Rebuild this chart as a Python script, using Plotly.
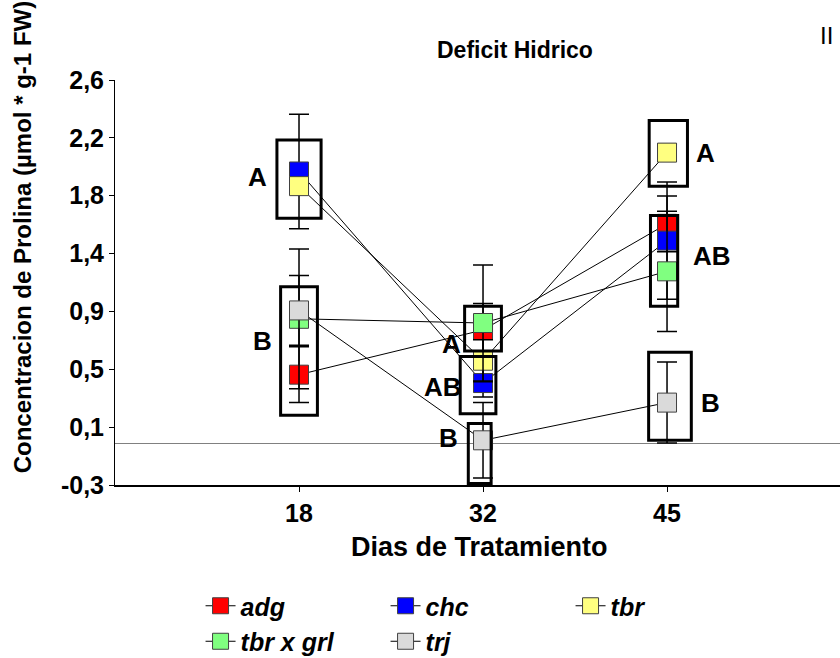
import numpy as np
import plotly.graph_objects as go

# ---- data -------------------------------------------------------------
days = ["18", "32", "45"]

adg = [0.49, 0.81, 1.57]
adg_err = [0.20, 0.19, 0.20]

chc = [1.945, 0.43, 1.45]
chc_err = [0.41, 0.10, 0.42]

tbr = [1.84, 0.59, 2.08]
tbr_err = [0.05, 0.15, 0.06]

tbr_grl = [0.89, 0.86, 1.23]
tbr_grl_err = [0.50, 0.415, 0.43]

trj = [0.95, 0.02, 0.29]
trj_err = [0.25, 0.27, 0.29]

y_tick_labels = ["-0,3", "0,1", "0,5", "0,9", "1,4", "1,8", "2,2", "2,6"]

# significance groups (Tukey letters) per sampling day
group_day = [0, 0, 1, 1, 1, 2, 2, 2]
group_letter = ["A", "B", "A", "AB", "B", "A", "AB", "B"]
group_low = [1.61, 0.20, 0.66, 0.21, -0.29, 1.84, 0.98, 0.02]
group_high = [2.17, 1.12, 0.98, 0.62, 0.14, 2.31, 1.63, 0.65]
group_label_y = [1.905, 0.73, 0.71, 0.40, 0.04, 2.075, 1.34, 0.29]

# ---- styling ----------------------------------------------------------
FONT = "Arial, Liberation Sans, sans-serif"
series = [
    ("adg", adg, adg_err, "#FF0000"),
    ("chc", chc, chc_err, "#0000FF"),
    ("tbr", tbr, tbr_err, "#FFFF80"),
    ("tbr x grl", tbr_grl, tbr_grl_err, "#80FF80"),
    ("trj", trj, trj_err, "#DADADA"),
]

box_half = [0.12, 0.10, 0.10, 0.097, 0.062, 0.104, 0.074, 0.116]
box_shift = [0.0, 0.0, 0.0, -0.027, -0.018, 0.007, -0.016, 0.016]
label_dx = [-0.228, -0.20, -0.174, -0.22, -0.19, 0.21, 0.243, 0.238]

fig = go.Figure()

# each series: connecting line, error bars and square markers
for name, vals, errs, color in series:
    fig.add_trace(go.Scatter(
        x=days, y=vals, name=name, mode="lines+markers",
        line=dict(color="black", width=1),
        marker=dict(symbol="square", size=19, color=color,
                    line=dict(color="#404040", width=1)),
        error_y=dict(type="data", array=errs, visible=True,
                     color="black", thickness=1.5, width=10),
    ))

shapes = []
annotations = []
for d, let, lo, hi, hw, sh, lyy, dx in zip(group_day, group_letter, group_low,
                                           group_high, box_half, box_shift,
                                           group_label_y, label_dx):
    shapes.append(dict(type="rect", xref="x", yref="y",
                       x0=d + sh - hw, x1=d + sh + hw, y0=lo, y1=hi,
                       line=dict(color="black", width=3),
                       fillcolor="rgba(0,0,0,0)", layer="above"))
    annotations.append(dict(x=d + dx, y=lyy, xref="x", yref="y", text=let,
                            showarrow=False, xanchor="center", yanchor="middle",
                            font=dict(family=FONT, size=26, color="black",
                                      weight="bold")))

# title, panel mark and axis titles
annotations += [
    dict(x=0.552, y=1.074, xref="paper", yref="paper", text="Deficit Hidrico",
         showarrow=False, xanchor="center", yanchor="middle",
         font=dict(family=FONT, size=23, color="black", weight="bold")),
    dict(x=0.981, y=1.11, xref="paper", yref="paper", text="II",
         showarrow=False, xanchor="center", yanchor="middle",
         font=dict(family=FONT, size=24, color="black")),
    dict(x=0.503, y=-0.153, xref="paper", yref="paper",
         text="Dias de Tratamiento",
         showarrow=False, xanchor="center", yanchor="middle",
         font=dict(family=FONT, size=27, color="black", weight="bold")),
    dict(x=-0.128, y=0.612, xref="paper", yref="paper",
         text="Concentracion de Prolina (µmol * g-1 FW)", textangle=-90,
         showarrow=False, xanchor="center", yanchor="middle",
         font=dict(family=FONT, size=24, color="black", weight="bold")),
]

y_min, y_max = -0.3, 2.6
y_ticks = list(np.linspace(y_min, y_max, len(y_tick_labels)))

fig.update_layout(
    width=840, height=658,
    margin=dict(l=115, r=0, t=80, b=173, autoexpand=False),
    plot_bgcolor="white", paper_bgcolor="white",
    shapes=shapes, annotations=annotations,
    showlegend=True,
    legend=dict(orientation="h", x=0.118, y=-0.242, xanchor="left",
                yanchor="top", entrywidth=140, entrywidthmode="pixels",
                traceorder="normal",
                font=dict(family=FONT, size=25, color="black",
                          weight="bold", style="italic")),
    xaxis=dict(type="category", range=[-1, 2.94], showgrid=False,
               showline=True, linecolor="black", linewidth=1.5,
               ticks="outside", ticklen=5, tickcolor="black",
               tickfont=dict(family=FONT, size=25, color="black",
                             weight="bold"),
               zeroline=False),
    yaxis=dict(range=[y_min, y_max], showgrid=False,
               tickvals=y_ticks, ticktext=y_tick_labels,
               showline=True, linecolor="black", linewidth=1,
               ticks="outside", ticklen=5, tickcolor="black",
               tickfont=dict(family=FONT, size=25, color="black",
                             weight="bold"),
               zeroline=True, zerolinecolor="#808080", zerolinewidth=1),
)

fig.write_html("out.html")
